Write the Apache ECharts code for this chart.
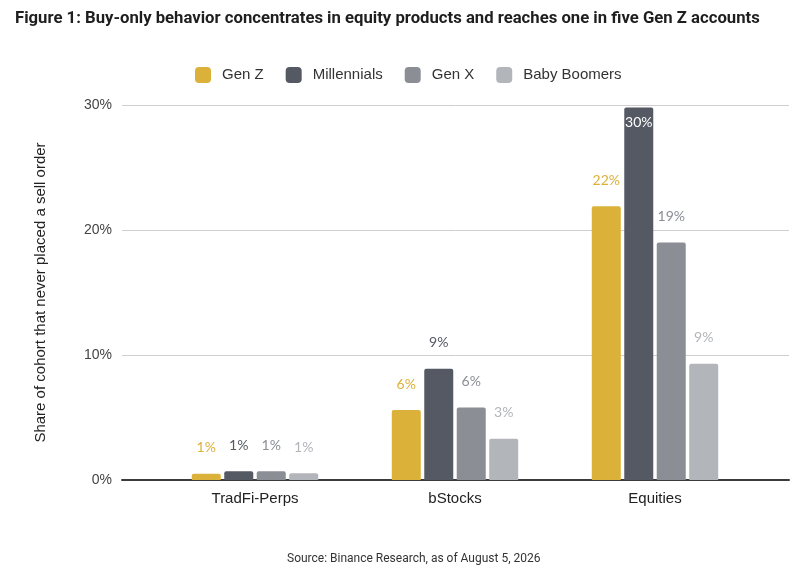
<!DOCTYPE html>
<html lang="en">
<head>
    <meta charset="UTF-8">
    <title>Buy-only behavior</title>
    <style>
        html, body { margin: 0; padding: 0; background: #fff; }
        #chart { width: 800px; height: 574px; }
    </style>
</head>
<body>
<div id="chart"></div>
<script src="https://cdn.jsdelivr.net/npm/echarts@6/dist/echarts.min.js"></script>
<script>
    // data (percent of cohort)
    var categories = ['TradFi-Perps', 'bStocks', 'Equities'];
    var cohorts = ['Gen Z', 'Millennials', 'Gen X', 'Baby Boomers'];
    var genZ = [0.5, 5.6, 21.9];
    var millennials = [0.7, 8.9, 29.8];
    var genX = [0.7, 5.8, 19.0];
    var boomers = [0.55, 3.3, 9.3];
    var yTicks = [0, 10, 20, 30];

    var colors = ['#dcb139', '#555963', '#8b8e95', '#b2b5ba'];
    var values = [genZ, millennials, genX, boomers];
    var yMax = yTicks[yTicks.length - 1];

    var chart = echarts.init(document.getElementById('chart'));

    // one bar series per cohort, labels rounded to whole percent
    var series = [];
    for (var i = 0; i < cohorts.length; i++) {
        var items = [];
        for (var j = 0; j < values[i].length; j++) {
            var item = { value: values[i][j] };
            // the tallest bar has no room above it, so its label goes inside
            if (values[i][j] > yMax - 2) {
                item.label = { position: 'insideTop', distance: 8, color: '#fff' };
            }
            items.push(item);
        }
        series.push({
            name: cohorts[i],
            type: 'bar',
            xAxisIndex: 1,
            yAxisIndex: 1,
            barWidth: 29,
            barGap: '12%',
            data: items,
            itemStyle: { color: colors[i], borderRadius: [2, 2, 0, 0] },
            label: {
                show: true,
                position: 'top',
                distance: 19,
                color: colors[i],
                fontFamily: 'Lato',
                fontSize: 14,
                formatter: function (p) { return Math.round(p.value) + '%'; }
            }
        });
    }

    var option = {
        backgroundColor: '#fff',
        animation: false,
        title: [{
            text: 'Figure 1: Buy-only behavior concentrates in equity products and reaches one in five Gen Z accounts',
            left: 10,
            top: 5,
            textStyle: {
                fontFamily: 'Roboto',
                fontWeight: 'bold',
                fontSize: 16.7,
                color: '#1e1e1e'
            }
        }, {
            text: 'Source: Binance Research, as of August 5, 2026',
            left: 282,
            top: 548,
            textStyle: {
                fontFamily: 'Roboto',
                fontWeight: 'normal',
                fontSize: 12,
                color: '#333'
            }
        }],
        legend: {
            data: cohorts,
            left: 190,
            top: 62,
            icon: 'roundRect',
            itemWidth: 16,
            itemHeight: 16,
            itemGap: 22,
            textStyle: {
                fontFamily: 'Liberation Sans',
                fontSize: 15,
                color: '#333',
                padding: [0, 0, 0, 6]
            }
        },
        // wide grid carries the gridlines, y labels and baseline;
        // the inner grid holds the bars with padding at both ends
        grid: [
            { left: 122, right: 11, top: 105, bottom: 94 },
            { left: 155, right: 45, top: 105, bottom: 94 }
        ],
        xAxis: [{
            type: 'value',
            gridIndex: 0,
            min: 0,
            max: 1,
            axisLine: { show: true, lineStyle: { color: '#3c3c3c', width: 2 } },
            axisTick: { show: false },
            axisLabel: { show: false },
            splitLine: { show: false }
        }, {
            type: 'category',
            gridIndex: 1,
            data: categories,
            axisLine: { show: false },
            axisTick: { show: false },
            axisLabel: {
                margin: 11,
                fontFamily: 'Liberation Sans',
                fontSize: 15,
                color: '#222'
            }
        }],
        yAxis: [{
            type: 'value',
            gridIndex: 0,
            min: yTicks[0],
            max: yMax,
            interval: yTicks[1] - yTicks[0],
            name: 'Share of cohort that never placed a sell order',
            nameLocation: 'middle',
            nameGap: 74,
            nameTextStyle: {
                fontFamily: 'Liberation Sans',
                fontSize: 15,
                color: '#222'
            },
            axisLine: { show: false },
            axisTick: { show: false },
            axisLabel: {
                margin: 10,
                fontFamily: 'Liberation Sans',
                fontSize: 14,
                color: '#444',
                formatter: '{value}%'
            },
            splitLine: { lineStyle: { color: '#cfcfcf', width: 1 } }
        }, {
            type: 'value',
            gridIndex: 1,
            min: yTicks[0],
            max: yMax,
            show: false,
            splitLine: { show: false }
        }],
        series: series
    };

    chart.setOption(option);
</script>
</body>
</html>
